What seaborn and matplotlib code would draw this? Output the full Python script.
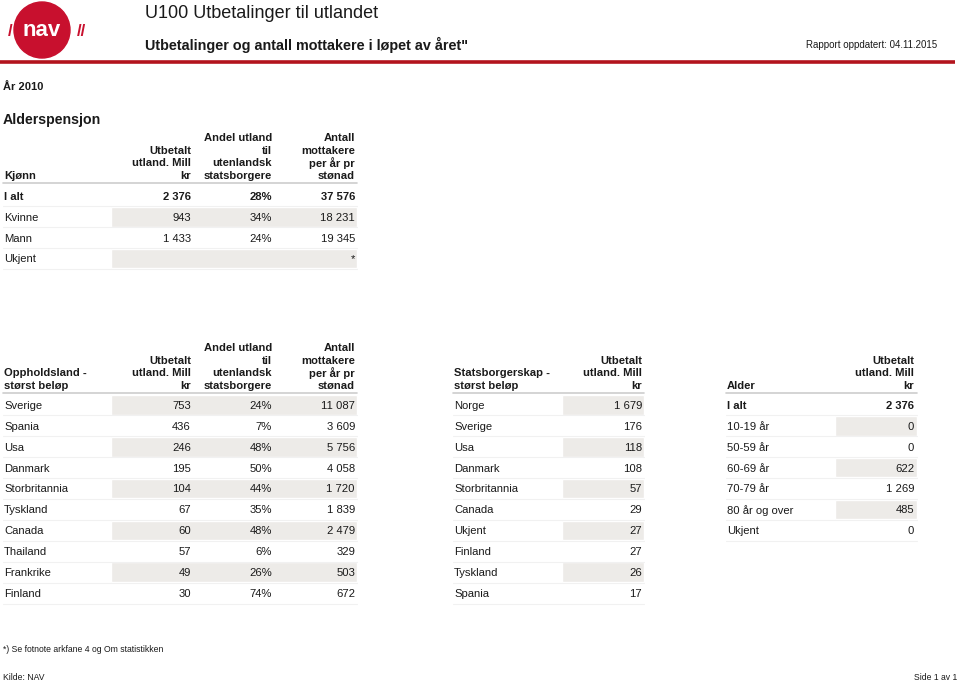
import matplotlib
matplotlib.use("Agg")
import matplotlib.pyplot as plt
from matplotlib.patches import Circle
import seaborn as sns

# ---------------- data ----------------
kjonn_labels = ["I alt", "Kvinne", "Mann", "Ukjent"]
kjonn_utbetalt = [2376, 943, 1433, None]
kjonn_andel = [28, 34, 24, None]
kjonn_antall = [37576, 18231, 19345, "*"]

land_labels = ["Sverige", "Spania", "Usa", "Danmark", "Storbritannia", "Tyskland",
               "Canada", "Thailand", "Frankrike", "Finland"]
land_utbetalt = [753, 436, 246, 195, 104, 67, 60, 57, 49, 30]
land_andel = [24, 7, 48, 50, 44, 35, 48, 6, 26, 74]
land_antall = [11087, 3609, 5756, 4058, 1720, 1839, 2479, 329, 503, 672]

stat_labels = ["Norge", "Sverige", "Usa", "Danmark", "Storbritannia", "Canada",
               "Ukjent", "Finland", "Tyskland", "Spania"]
stat_utbetalt = [1679, 176, 118, 108, 57, 29, 27, 27, 26, 17]

alder_labels = ["I alt", "10-19 år", "50-59 år", "60-69 år", "70-79 år",
                "80 år og over", "Ukjent"]
alder_utbetalt = [2376, 0, 0, 622, 1269, 485, 0]

hdr_utbetalt = ["Utbetalt", "utland. Mill", "kr"]
hdr_andel = ["Andel utland", "til", "utenlandsk", "statsborgere"]
hdr_antall = ["Antall", "mottakere", "per år pr", "stønad"]

# ---------------- style ----------------
sns.set_theme(style="white")
plt.rcParams["font.family"] = ["Liberation Sans", "DejaVu Sans"]

TXT = "#1a1a1a"
SHADE = "#EDEBE8"
LINE = "#CDCDCD"
FAINT = "#F1F1F1"
RED = "#B3141D"
FS = 8.1
DY = 0.8   # text vertical nudge
LSP = 12.5  # header line spacing


def fmt(v, pct=False):
    if v is None:
        return ""
    if isinstance(v, str):
        return v
    s = f"{v:,}".replace(",", " ")
    return s + "%" if pct else s


fig = plt.figure(figsize=(9.6, 6.81), dpi=100)
ax = fig.add_axes([0, 0, 1, 1])
ax.set_xlim(0, 960)
ax.set_ylim(681, 0)
ax.axis("off")

# ---------------- header ----------------
ax.add_patch(Circle((42, 30), 28, color="#C8102E", zorder=2))
ax.text(42, 31, "nav", color="white", fontsize=16, fontweight="bold",
        ha="center", va="center", zorder=3)
ax.text(10, 32, "/", color="#C8102E", fontsize=12, fontweight="bold",
        ha="center", va="center")
ax.text(81, 32, "//", color="#C8102E", fontsize=12, fontweight="bold",
        ha="center", va="center")

ax.text(145, 13, "U100 Utbetalinger til utlandet", fontsize=13, color=TXT,
        ha="left", va="center")
ax.text(145, 45, "Utbetalinger og antall mottakere i løpet av året\"", fontsize=10.4,
        fontweight="bold", color=TXT, ha="left", va="center")
ax.text(937, 45, "Rapport oppdatert: 04.11.2015", fontsize=7.0, color=TXT,
        ha="right", va="center")
ax.plot([0, 955], [62, 62], color=RED, lw=2.6, solid_capstyle="butt")

ax.text(3, 87.5, "År 2010", fontsize=8, fontweight="bold", color=TXT, va="center")
ax.text(3, 120, "Alderspensjon", fontsize=10.2, fontweight="bold", color=TXT, va="center")


def draw_table(x_label, label_title, label_rows, cols, header_bottom, row_y0,
               shade_x0, x_end, bold_first, start_shade):
    """cols: list of (x_right, header_lines, values, pct)"""
    for i, line in enumerate(label_title):
        ax.text(x_label, header_bottom + DY - LSP * (len(label_title) - 1 - i), line,
                fontsize=FS, fontweight="bold", color=TXT, ha="left", va="center")
    for xr, hdr, vals, pct in cols:
        for i, line in enumerate(hdr):
            ax.text(xr, header_bottom + DY - LSP * (len(hdr) - 1 - i), line,
                    fontsize=FS, fontweight="bold", color=TXT, ha="right", va="center")
    ax.plot([x_label - 1, x_end], [header_bottom + 7.5, header_bottom + 7.5],
            color=LINE, lw=1.2)
    n = len(label_rows)
    ys = [row_y0 + 20.9 * k for k in range(n)]
    shade_idx = [k for k in range(n) if k >= start_shade and (k - start_shade) % 2 == 0]
    ax.barh([ys[k] for k in shade_idx], [x_end - shade_x0] * len(shade_idx),
            left=shade_x0, height=19.5, color=SHADE, zorder=0)
    for k, y in enumerate(ys):
        wt = "bold" if (bold_first and k == 0) else "normal"
        ax.text(x_label, y + DY, label_rows[k], fontsize=FS, fontweight=wt, color=TXT,
                ha="left", va="center")
        for xr, hdr, vals, pct in cols:
            ax.text(xr, y + DY, fmt(vals[k], pct), fontsize=FS, fontweight=wt, color=TXT,
                    ha="right", va="center")
        ax.plot([x_label - 1, x_end], [y + 10.4, y + 10.4], color=FAINT, lw=0.8, zorder=0)


# Table 1: Kjønn
draw_table(4, ["Kjønn"], kjonn_labels,
           [(191, hdr_utbetalt, kjonn_utbetalt, False),
            (272, hdr_andel, kjonn_andel, True),
            (355, hdr_antall, kjonn_antall, False)],
           header_bottom=175, row_y0=196, shade_x0=111, x_end=357,
           bold_first=True, start_shade=1)

# Table 2: Oppholdsland
draw_table(4, ["Oppholdsland -", "størst beløp"], land_labels,
           [(191, hdr_utbetalt, land_utbetalt, False),
            (272, hdr_andel, land_andel, True),
            (355, hdr_antall, land_antall, False)],
           header_bottom=385, row_y0=405, shade_x0=111, x_end=357,
           bold_first=False, start_shade=0)

# Table 3: Statsborgerskap
draw_table(454, ["Statsborgerskap -", "størst beløp"], stat_labels,
           [(642, hdr_utbetalt, stat_utbetalt, False)],
           header_bottom=385, row_y0=405, shade_x0=562, x_end=644,
           bold_first=False, start_shade=0)

# Table 4: Alder
draw_table(727, ["Alder"], alder_labels,
           [(914, hdr_utbetalt, alder_utbetalt, False)],
           header_bottom=385, row_y0=405, shade_x0=835, x_end=917,
           bold_first=True, start_shade=1)

# footer
ax.text(3, 650, "*) Se fotnote arkfane 4 og Om statistikken", fontsize=6.2,
        color=TXT, va="center")
ax.text(3, 677, "Kilde: NAV", fontsize=6.2, color=TXT, va="center")
ax.text(957, 677, "Side 1 av 1", fontsize=6.2, color=TXT, va="center", ha="right")

fig.savefig("out.png", dpi=100)
